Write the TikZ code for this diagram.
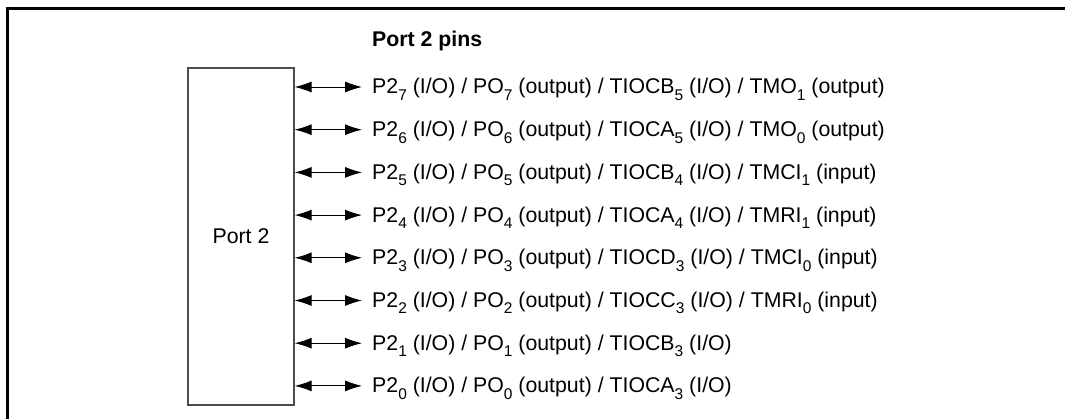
\documentclass[tikz,border=0pt]{standalone}
\usepackage{fontspec}
\setmainfont{Liberation Sans}
\usetikzlibrary{arrows.meta}
\newcommand\sbs[1]{\raisebox{-0.3em}{\fontsize{15.5}{16}\selectfont #1}}
\newcommand\lblfont{\fontsize{21.3}{25}\selectfont}
\tikzset{
  pinlabel/.style={anchor=west, inner sep=0pt, font=\lblfont},
  biarrow/.style={{Latex[length=17pt,width=11pt]}-{Latex[length=17pt,width=11pt]}, line width=0.9pt, black},
  portbox/.style={draw=black!70, line width=1.3pt, minimum width=106pt, minimum height=337pt, inner sep=0pt, font=\lblfont},
  frameline/.style={line width=3pt, black}
}
\begin{document}
\begin{tikzpicture}[x=1pt,y=-1pt]
\useasboundingbox (0,0) rectangle (1065,419);
\coordinate (fa) at (7,419);
\coordinate (fb) at (7,9);
\coordinate (fc) at (1065,9);
\draw[frameline] (fa) -- (fb) -- (fc);
\node[portbox] (port) at (241,236.5) {Port 2};
\node[pinlabel, font=\lblfont\bfseries] (title) at (372,41) {Port 2 pins};
\foreach \i/\t in {0/{P2\sbs{7} (I/O) / PO\sbs{7} (output) / TIOCB\sbs{5} (I/O) / TMO\sbs{1} (output)},
                   1/{P2\sbs{6} (I/O) / PO\sbs{6} (output) / TIOCA\sbs{5} (I/O) / TMO\sbs{0} (output)},
                   2/{P2\sbs{5} (I/O) / PO\sbs{5} (output) / TIOCB\sbs{4} (I/O) / TMCI\sbs{1} (input)},
                   3/{P2\sbs{4} (I/O) / PO\sbs{4} (output) / TIOCA\sbs{4} (I/O) / TMRI\sbs{1} (input)},
                   4/{P2\sbs{3} (I/O) / PO\sbs{3} (output) / TIOCD\sbs{3} (I/O) / TMCI\sbs{0} (input)},
                   5/{P2\sbs{2} (I/O) / PO\sbs{2} (output) / TIOCC\sbs{3} (I/O) / TMRI\sbs{0} (input)},
                   6/{P2\sbs{1} (I/O) / PO\sbs{1} (output) / TIOCB\sbs{3} (I/O)},
                   7/{P2\sbs{0} (I/O) / PO\sbs{0} (output) / TIOCA\sbs{3} (I/O)}}{
  \node[pinlabel, anchor=base west] (pin\i) at (372,94+42.7*\i) {\t};
  \coordinate (s\i) at (port.east |- 0,87+42.7*\i);
  \coordinate (e\i) at (362,87+42.7*\i);
  \draw[biarrow] (s\i) -- (e\i);
}
\end{tikzpicture}
\end{document}
